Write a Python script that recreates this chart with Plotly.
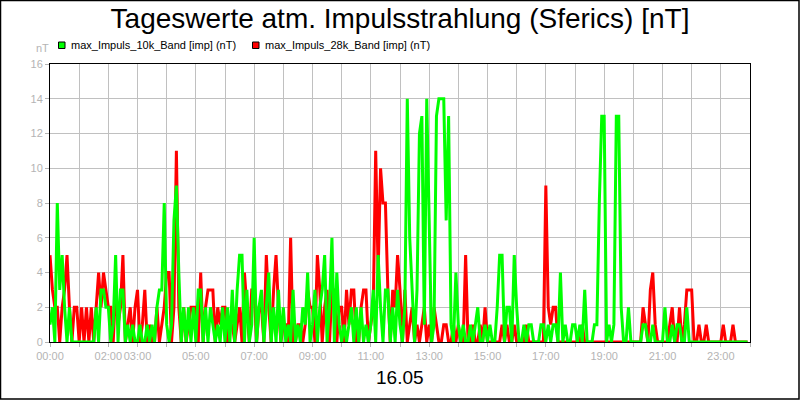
import pandas as pd
import plotly.graph_objects as go

# ---- data (5-minute samples, 16.05) ----
times = pd.date_range("2024-05-16 00:00", periods=288, freq="5min")

green_10k = [
    1, 2, 0, 8, 3, 5, 2, 0, 2, 0, 0, 0,        # 00
    0, 0, 0, 0, 0, 0, 0, 2, 0, 3, 3, 2,        # 01
    2, 0, 1, 5, 0, 3, 3, 0, 1, 0, 1, 0,        # 02
    0, 1, 0, 0, 1, 0, 1, 0, 2, 3, 3, 8,        # 03
    1, 0, 1, 7, 9, 4, 0, 2, 0, 2, 0, 2,        # 04
    0, 3, 3, 0, 2, 0, 2, 1, 0, 1, 0, 2,        # 05
    0, 2, 0, 3, 0, 3, 5, 5, 0, 3, 0, 1,        # 06
    6, 0, 2, 3, 0, 2, 4, 0, 2, 0, 3, 0,        # 07
    2, 0, 1, 0, 3, 0, 1, 0, 2, 1, 4, 0,        # 08
    1, 3, 0, 2, 3, 5, 0, 2, 6, 0, 4, 1,        # 09
    0, 1, 0, 1, 2, 0, 2, 0, 2, 0, 1, 0,        # 10
    1, 3, 0, 5, 2, 0, 3, 3, 0, 2, 0, 3,        # 11
    1, 0, 2, 14, 6, 3, 0, 3, 12, 13, 1, 14,    # 12
    6, 0, 1, 13, 14, 14, 14, 7, 13, 1, 0, 4,   # 13
    1, 0, 1, 0, 0, 1, 0, 1, 2, 0, 0, 1,        # 14
    0, 1, 0, 0, 2, 5, 5, 0, 2, 2, 0, 5,        # 15
    2, 0, 0, 1, 0, 1, 1, 0, 0, 0, 1, 1,        # 16
    0, 1, 0, 1, 1, 0, 4, 0, 1, 0, 0, 1,        # 17
    1, 0, 1, 0, 3, 0, 0, 0, 1, 1, 8, 13,       # 18
    13, 0, 1, 0, 1, 13, 13, 2, 0, 0, 2, 0,     # 19
    0, 0, 0, 0, 1, 1, 0, 0, 1, 0, 0, 0,        # 20
    0, 2, 0, 0, 1, 0, 1, 1, 0, 0, 2, 0,        # 21
    0, 0, 0, 0, 0, 0, 0, 0, 0, 0, 0, 0,        # 22
    0, 0, 0, 0, 0, 0, 0, 0, 0, 0, 0, 0,        # 23
]

red_28k = [
    5, 3, 2, 2, 0, 2, 3, 5, 2, 0, 2, 2,        # 00
    0, 2, 0, 2, 0, 2, 0, 2, 4, 2, 4, 3,        # 01
    2, 2, 0, 3, 1, 2, 5, 0, 1, 2, 0, 2,        # 02
    3, 0, 1, 3, 0, 1, 0, 0, 2, 0, 1, 2,        # 03
    4, 4, 0, 2, 11, 2, 0, 2, 0, 1, 2, 2,       # 04
    2, 0, 4, 0, 2, 3, 3, 3, 0, 2, 1, 2,        # 05
    2, 0, 1, 1, 0, 1, 2, 0, 4, 2, 0, 3,        # 06
    3, 0, 2, 2, 0, 5, 2, 0, 3, 5, 2, 0,        # 07
    1, 1, 0, 6, 0, 0, 1, 1, 0, 1, 3, 2,        # 08
    2, 0, 5, 3, 0, 2, 3, 0, 3, 3, 0, 2,        # 09
    2, 0, 3, 1, 3, 3, 0, 0, 2, 3, 3, 0,        # 10
    1, 2, 11, 4, 10, 8, 8, 3, 0, 3, 2, 5,      # 11
    3, 0, 3, 0, 1, 2, 0, 1, 0, 1, 2, 0,        # 12
    1, 0, 2, 1, 0, 0, 1, 1, 0, 0, 1, 0,        # 13
    1, 0, 0, 5, 0, 0, 1, 0, 0, 1, 0, 2,        # 14
    0, 0, 0, 0, 0, 0, 1, 0, 1, 0, 0, 1,        # 15
    0, 0, 0, 0, 1, 0, 0, 0, 0, 0, 0, 0,        # 16
    9, 2, 1, 2, 2, 0, 0, 0, 0, 0, 0, 0,        # 17
    0, 0, 0, 1, 0, 0, 0, 0, 0, 0, 0, 0,        # 18
    0, 0, 0, 0, 0, 0, 0, 0, 0, 0, 0, 0,        # 19
    0, 0, 0, 0, 2, 1, 0, 3, 4, 1, 0, 0,        # 20
    0, 0, 0, 1, 2, 0, 0, 2, 0, 1, 3, 3,        # 21
    3, 0, 0, 1, 0, 0, 1, 0, 0, 0, 0, 0,        # 22
    0, 1, 0, 0, 0, 1, 0, 0, 0, 0, 0, 0,        # 23
]

series_names = ["max_Impuls_10k_Band [imp] (nT)", "max_Impuls_28k_Band [imp] (nT)"]
series_colors = ["#00ff00", "#ff0000"]

hour_ticks = pd.date_range("2024-05-16 00:00", periods=25, freq="h")
labelled_hours = ["00:00", "02:00", "03:00", "05:00", "07:00", "09:00", "11:00",
                  "13:00", "15:00", "17:00", "19:00", "21:00", "23:00"]
y_ticks = [0, 2, 4, 6, 8, 10, 12, 14, 16]

title_text = "Tageswerte atm. Impulsstrahlung (Sferics) [nT]"
date_text = "16.05"
unit_text = "nT"

# ---- layout geometry (pixels) ----
W, H = 800, 400
L, R, T, B = 50, 50, 64, 58
PW, PH = W - L - R, H - T - B


def px(xp):
    return (xp - L) / PW


def py(yp):
    return (H - B - yp) / PH


FONT = "Liberation Sans, Arial, sans-serif"
GRAY = "#b4b4b4"

fig = go.Figure()
fig.add_trace(go.Scatter(x=times, y=red_28k, mode="lines", name=series_names[1],
                         line=dict(color=series_colors[1], width=3), showlegend=False))
fig.add_trace(go.Scatter(x=times, y=green_10k, mode="lines", name=series_names[0],
                         line=dict(color=series_colors[0], width=3), showlegend=False))

tick_text = [t.strftime("%H:%M") if t.strftime("%H:%M") in labelled_hours and t.day == 16 else ""
             for t in hour_ticks]

fig.update_xaxes(range=[hour_ticks[0], hour_ticks[-1]], tickvals=list(hour_ticks), ticktext=tick_text,
                 tickangle=0,
                 showgrid=True, gridcolor="#c0c0c0", gridwidth=1,
                 ticks="outside", ticklen=4, tickcolor=GRAY, tickwidth=1,
                 tickfont=dict(family=FONT, size=11, color=GRAY),
                 showline=True, linecolor="black", linewidth=1, mirror=True, zeroline=False)
fig.update_yaxes(range=[0, 16], tickvals=y_ticks,
                 showgrid=True, gridcolor="#c0c0c0", gridwidth=1,
                 ticks="outside", ticklen=4, tickcolor=GRAY, tickwidth=1,
                 tickfont=dict(family=FONT, size=11, color=GRAY),
                 showline=True, linecolor="black", linewidth=1, mirror=True, zeroline=False)

shapes = [
    # outer border
    dict(type="rect", xref="paper", yref="paper", x0=px(0.5), x1=px(799), y0=py(399), y1=py(0.5),
         line=dict(color="black", width=1.5), fillcolor="rgba(0,0,0,0)", layer="above"),
    # legend swatches
    dict(type="rect", xref="paper", yref="paper", x0=px(58.5), x1=px(65), y0=py(48.5), y1=py(42),
         line=dict(color="black", width=1), fillcolor=series_colors[0]),
    dict(type="rect", xref="paper", yref="paper", x0=px(252.5), x1=px(259), y0=py(48.5), y1=py(42),
         line=dict(color="black", width=1), fillcolor=series_colors[1]),
]

annotations = [
    dict(text=series_names[0], x=px(69), y=py(45.5), xref="paper", yref="paper",
         xanchor="left", yanchor="middle", showarrow=False,
         font=dict(family=FONT, size=11, color="black")),
    dict(text=series_names[1], x=px(263), y=py(45.5), xref="paper", yref="paper",
         xanchor="left", yanchor="middle", showarrow=False,
         font=dict(family=FONT, size=11, color="black")),
    dict(text=unit_text, x=px(42), y=py(48), xref="paper", yref="paper",
         xanchor="center", yanchor="middle", showarrow=False,
         font=dict(family=FONT, size=11, color=GRAY)),
    dict(text=date_text, x=px(400), y=py(377), xref="paper", yref="paper",
         xanchor="center", yanchor="middle", showarrow=False,
         font=dict(family=FONT, size=19, color="black")),
]

fig.update_layout(
    width=W, height=H,
    margin=dict(l=L, r=R, t=T, b=B),
    paper_bgcolor="white", plot_bgcolor="white",
    title=dict(text=title_text, x=0.5, xanchor="center", y=1 - 18 / H, yanchor="middle",
               font=dict(family=FONT, size=28, color="black")),
    shapes=shapes, annotations=annotations, showlegend=False,
)

fig.write_html("out.html")
